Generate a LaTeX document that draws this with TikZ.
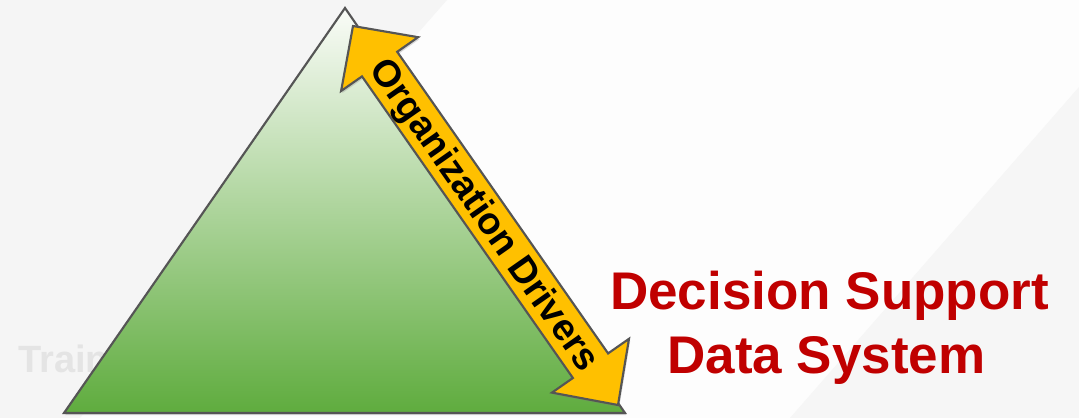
\documentclass[tikz,border=0pt]{standalone}
\usepackage{fontspec}
\setmainfont{Liberation Sans}
\usetikzlibrary{shadows}
\definecolor{bgleft}{HTML}{F5F5F5}
\definecolor{bgmid}{HTML}{FDFDFD}
\definecolor{bgright}{HTML}{F6F6F6}
\definecolor{wmark}{HTML}{E4E4E4}
\definecolor{edgegray}{HTML}{555555}
\definecolor{gtop}{HTML}{FAFCF8}
\definecolor{gbot}{HTML}{5FAC3E}
\definecolor{arrowfill}{HTML}{FFC000}
\definecolor{dssred}{HTML}{C00000}
\tikzset{
  shapeedge/.style={draw=edgegray, line width=1.6pt, line join=miter},
  softshadow/.style={drop shadow={opacity=0.28, shadow xshift=0.9pt, shadow yshift=-1.6pt}},
  redtext/.style={anchor=base, inner sep=0pt, text=dssred, font=\fontsize{39.75}{47}\selectfont\bfseries},
}
\begin{document}
\begin{tikzpicture}[x=0.75pt,y=-0.75pt]
\useasboundingbox (0,0) rectangle (1079,418);
% background
\fill[bgmid] (0,0) rectangle (1079,418);
\fill[bgleft] (0,0) -- (447,0) -- (80,418) -- (0,418) -- cycle;
\fill[bgright] (1079,87) -- (790,418) -- (1079,418) -- cycle;
% watermark (partly hidden)
\node[anchor=base west, inner sep=0pt, text=wmark, font=\fontsize{28.5}{30}\selectfont\bfseries] (wm) at (18,372) {Train};
% triangle
\coordinate (apex) at (345,8);
\coordinate (bl) at (64,413);
\coordinate (br) at (625,413);
\path[softshadow, shapeedge, top color=gtop, bottom color=gbot] (apex) -- (bl) -- (br) -- cycle;
% double arrow
\coordinate (t1) at (353,26);
\coordinate (h1r) at (418.1,37.2);
\coordinate (i1r) at (397.2,51.8);
\coordinate (i2r) at (608.1,353.4);
\coordinate (h2r) at (629,338.8);
\coordinate (t2) at (618,405);
\coordinate (h2l) at (552,392.6);
\coordinate (i2l) at (572.9,378);
\coordinate (i1l) at (362,76.4);
\coordinate (h1l) at (341.1,91);
\path[softshadow, shapeedge, fill=arrowfill] (t1) -- (h1r) -- (i1r) -- (i2r) -- (h2r) -- (t2) -- (h2l) -- (i2l) -- (i1l) -- (h1l) -- cycle;
\node[rotate=-55, inner sep=0pt, font=\fontsize{28.3}{30}\selectfont\bfseries] (drv) at (483,216) {Organization Drivers};
% title text
\node[redtext] (dss1) at (829.5,309) {Decision Support};
\node[redtext] (dss2) at (826.5,373) {Data System};
\end{tikzpicture}
\end{document}
